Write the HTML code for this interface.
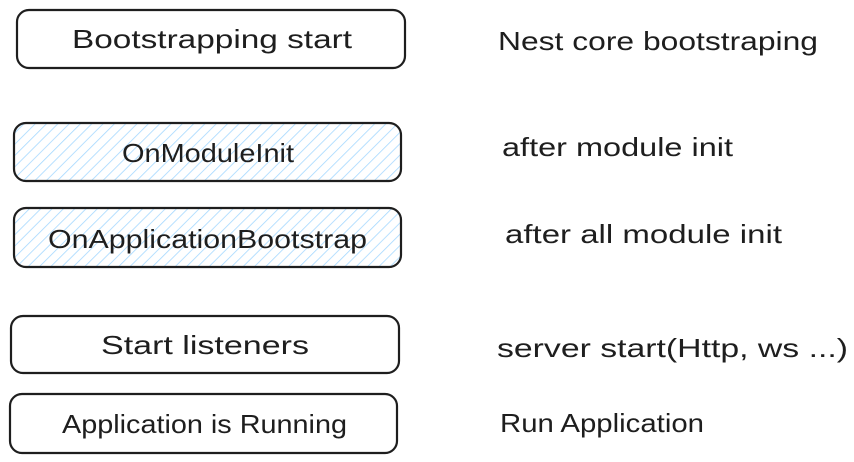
<!DOCTYPE html>
<html><head><meta charset="utf-8"><style>
html,body{margin:0;padding:0;background:#fff;width:854px;height:462px;overflow:hidden}
text{font-family:"Liberation Sans",sans-serif;font-size:26px;fill:#1e1e1e}
</style></head><body>
<svg width="854" height="462" viewBox="0 0 854 462" xmlns="http://www.w3.org/2000/svg">
<defs>
<pattern id="h" patternUnits="userSpaceOnUse" width="8" height="8" patternTransform="rotate(45)">
<line x1="0" y1="0" x2="0" y2="8" stroke="#a5d8ff" stroke-width="1.6"/>
</pattern>
</defs>
<g stroke="#1e1e1e" stroke-width="2.2" fill="none">
<rect x="17" y="10" width="388" height="58" rx="12"/>
<rect x="14" y="123" width="387" height="58" rx="12" fill="url(#h)"/>
<rect x="14" y="208" width="387" height="59" rx="12" fill="url(#h)"/>
<rect x="11" y="316" width="388" height="57" rx="12"/>
<rect x="10" y="394" width="387" height="59" rx="12"/>
</g>
<text x="72" y="48" textLength="280" lengthAdjust="spacingAndGlyphs">Bootstrapping start</text>
<text x="122" y="162" textLength="172" lengthAdjust="spacingAndGlyphs">OnModuleInit</text>
<text x="48" y="248" textLength="319" lengthAdjust="spacingAndGlyphs">OnApplicationBootstrap</text>
<text x="101" y="354" textLength="208" lengthAdjust="spacingAndGlyphs">Start listeners</text>
<text x="62" y="433" textLength="285" lengthAdjust="spacingAndGlyphs">Application is Running</text>
<text x="498" y="50" textLength="320" lengthAdjust="spacingAndGlyphs">Nest core bootstraping</text>
<text x="502" y="156" textLength="231" lengthAdjust="spacingAndGlyphs">after module init</text>
<text x="505" y="243" textLength="277" lengthAdjust="spacingAndGlyphs">after all module init</text>
<text x="497" y="357" textLength="351" lengthAdjust="spacingAndGlyphs">server start(Http, ws ...)</text>
<text x="500" y="432" textLength="204" lengthAdjust="spacingAndGlyphs">Run Application</text>
</svg>
</body></html>
